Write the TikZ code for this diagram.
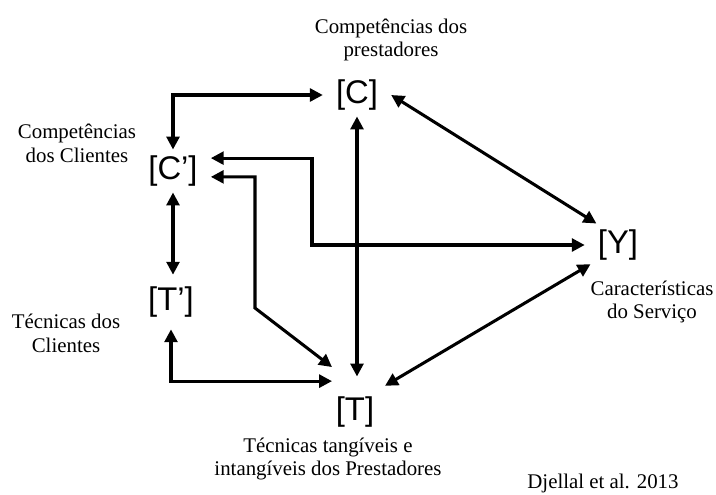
\documentclass[tikz,border=0pt]{standalone}
\usepackage{fontspec}
\setmainfont{Liberation Serif}
\setsansfont{Liberation Sans}
\usepackage{tikz}
\usetikzlibrary{arrows.meta,positioning,calc}
\tikzset{
  every picture/.style={line width=2.6pt},
  sArr/.style={{Triangle[length=11pt,width=11pt]}-{Triangle[length=11pt,width=11pt]}},
  sNode/.style={font=\sffamily\fontsize{28}{30}\selectfont, inner xsep=10pt, inner ysep=4pt},
  sLabel/.style={font=\fontsize{17.8}{20.3}\selectfont, align=center},
  sRef/.style={font=\fontsize{17.8}{20}\selectfont, anchor=base west},
}

\begin{document}
\begin{tikzpicture}[x=0.03cm,y=-0.03cm]
\useasboundingbox (0,0) rectangle (716,494);
% variables
\node[sNode] (C) at (357,95) {[C]};
\node[sNode] (Cp) at (173,171) {[C’]};
\node[sNode,inner ysep=9pt] (Tp) at (171,302) {[T’]};
\node[sNode,inner xsep=2pt,inner ysep=16pt] (T) at (355,412) {[T]};
\node[sNode] (Y) at (618,245) {[Y]};
% captions
\node[sLabel] (lC) at (391,40) {Competências dos\\prestadores};
\node[sLabel] (lCp) at (77,143) {Competências\\dos Clientes};
\node[sLabel] (lTp) at (66,333) {Técnicas dos\\Clientes};
\node[sLabel] (lY) at (652,302) {Características\\do Serviço};
\node[sLabel] (lT) at (328,459) {Técnicas tangíveis e\\intangíveis dos Prestadores};
\node[sRef] (src) at (522,488) {Djellal et al. 2013};
% bends
\coordinate (bendA) at (312,158);
\coordinate (bendB) at (255,308);
% links
\draw[sArr] (Cp.north) |- (C.west);
\draw[sArr] ([yshift=11pt]Cp.east) -| (bendA |- Y.west) -- (Y.west);
\draw[sArr] ([yshift=-5pt]Cp.east) -| (bendB) -- ([yshift=8pt]T.north west);
\draw[sArr] (Cp.south) -- (Cp.south |- Tp.north);
\draw[sArr] (Tp.south) |- ([yshift=-4pt]T.north west);
\draw[sArr] (C.south) -- (C.south |- T.north);
\draw[sArr] (C.east) -- ([xshift=10pt]Y.north west);
\draw[sArr] ([xshift=6pt,yshift=-8pt]T.north east) -- ([xshift=5pt,yshift=2pt]Y.south west);
\end{tikzpicture}
\end{document}
